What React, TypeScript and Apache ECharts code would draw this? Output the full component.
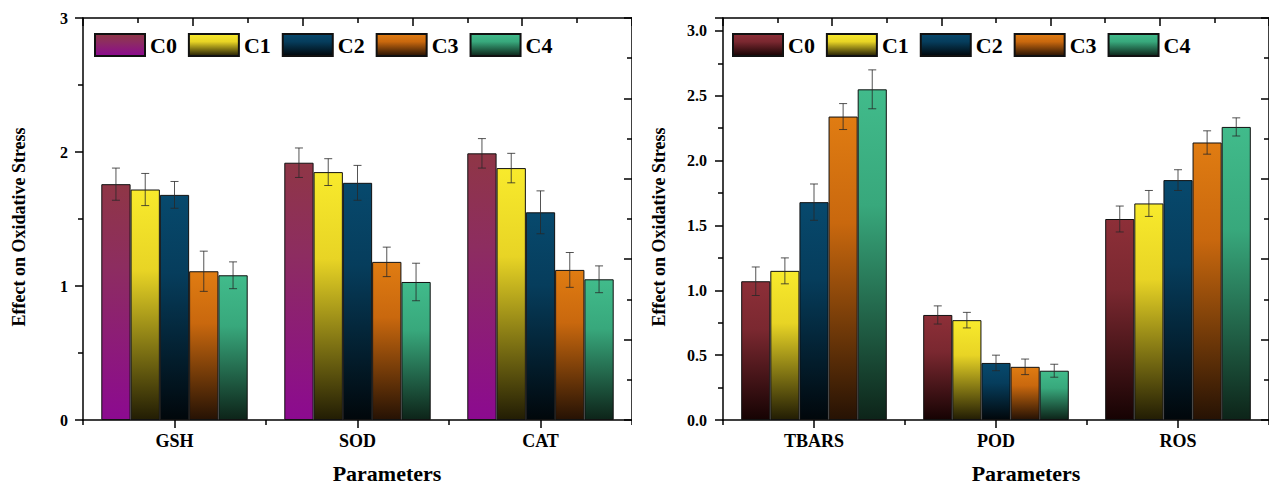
import React, { useEffect, useRef } from "react";
import * as echarts from "echarts";

const seriesNames = ["C0", "C1", "C2", "C3", "C4"];

const leftCategories = ["GSH", "SOD", "CAT"];
const leftC0 = [1.76, 1.92, 1.99];
const leftC1 = [1.72, 1.85, 1.88];
const leftC2 = [1.68, 1.77, 1.55];
const leftC3 = [1.11, 1.18, 1.12];
const leftC4 = [1.08, 1.03, 1.05];
const leftErrC0 = [0.12, 0.11, 0.11];
const leftErrC1 = [0.12, 0.1, 0.11];
const leftErrC2 = [0.1, 0.13, 0.16];
const leftErrC3 = [0.15, 0.11, 0.13];
const leftErrC4 = [0.1, 0.14, 0.1];

const rightCategories = ["TBARS", "POD", "ROS"];
const rightC0 = [1.07, 0.81, 1.55];
const rightC1 = [1.15, 0.77, 1.67];
const rightC2 = [1.68, 0.44, 1.85];
const rightC3 = [2.34, 0.41, 2.14];
const rightC4 = [2.55, 0.38, 2.26];
const rightErrC0 = [0.11, 0.07, 0.1];
const rightErrC1 = [0.1, 0.06, 0.1];
const rightErrC2 = [0.14, 0.06, 0.08];
const rightErrC3 = [0.1, 0.06, 0.09];
const rightErrC4 = [0.15, 0.05, 0.07];

const leftYTicks = { min: 0, max: 3, interval: 1 };
const rightYTicks = { min: 0, max: 3.1, interval: 0.5 };

const FONT = '"Liberation Serif", "Times New Roman", serif';

const grad = (top: string, mid: string, bottom: string) =>
  new echarts.graphic.LinearGradient(0, 0, 0, 1, [
    { offset: 0, color: top },
    { offset: 0.35, color: mid },
    { offset: 1, color: bottom },
  ]);

const leftColors = () => [
  grad("#8f3646", "#8d2d60", "#8c0a90"),
  grad("#f8ea2c", "#e8d425", "#221d04"),
  grad("#07496d", "#063d5c", "#01070b"),
  grad("#e07c12", "#c9680e", "#261204"),
  grad("#41bb8b", "#38a87c", "#0d2419"),
];
const rightColors = () => [
  grad("#8d2f38", "#7a2830", "#160303"),
  grad("#f8ea2c", "#e8d425", "#221d04"),
  grad("#07496d", "#063d5c", "#01070b"),
  grad("#e07c12", "#c9680e", "#261204"),
  grad("#41bb8b", "#38a87c", "#0d2419"),
];

function buildOption(
  categories: string[],
  values: number[][],
  errors: number[][],
  colors: any[],
  yCfg: { min: number; max: number; interval: number },
  decimals: number,
  labelMargin: number,
  legendLeft: number,
  yNameX: number,
  paramX: number
) {
  const axisLine = { show: true, lineStyle: { color: "#000", width: 1.5 } };
  const tickStyle = { color: "#000", width: 1.5 };
  const bars = values.map((vals, i) => ({
    name: seriesNames[i],
    type: "bar",
    xAxisIndex: 0,
    yAxisIndex: 0,
    data: vals,
    barGap: "0%",
    barCategoryGap: "20%",
    itemStyle: { color: colors[i], borderColor: "#111", borderWidth: 1 },
    z: 2,
  }));
  const errs = values.map((vals, i) => ({
    name: "err" + seriesNames[i],
    type: "custom",
    xAxisIndex: 0,
    yAxisIndex: 0,
    z: 5,
    encode: { x: 0, y: 1 },
    data: vals.map((v, j) => [j, v, errors[i][j]]),
    renderItem: (params: any, api: any) => {
      const idx = api.value(0);
      const v = api.value(1);
      const e = api.value(2);
      const base = api.coord([idx, v]);
      const band = api.size([1, 0])[0];
      const bw = (band * 0.8) / 5;
      const cx = base[0] + (i - 2) * bw;
      const yT = api.coord([idx, v + e])[1];
      const yB = api.coord([idx, v - e])[1];
      const st = { stroke: "rgba(40,40,40,0.8)", lineWidth: 1 };
      return {
        type: "group",
        children: [
          { type: "line", shape: { x1: cx, y1: yT, x2: cx, y2: yB }, style: st },
          { type: "line", shape: { x1: cx - 4, y1: yT, x2: cx + 4, y2: yT }, style: st },
          { type: "line", shape: { x1: cx - 4, y1: yB, x2: cx + 4, y2: yB }, style: st },
        ],
      };
    },
  }));
  return {
    animation: false,
    textStyle: { fontFamily: FONT },
    grid: { left: 83, right: 0, top: 18, bottom: 66, containLabel: false },
    legend: {
      data: seriesNames,
      left: legendLeft,
      top: 33,
      padding: 0,
      itemWidth: 50,
      itemHeight: 22,
      itemGap: 11,
      icon: "rect",
      textStyle: { fontFamily: FONT, fontWeight: "bold", fontSize: 22, color: "#000" },
      selectedMode: false,
    },
    xAxis: [
      {
        type: "category",
        data: categories,
        position: "bottom",
        axisLine,
        axisTick: { show: true, alignWithLabel: true, length: 8, lineStyle: tickStyle },
        axisLabel: { fontFamily: FONT, fontWeight: "bold", fontSize: 18, color: "#000", margin: 12 },
      },
      {
        type: "category",
        data: categories,
        position: "bottom",
        axisLine: { show: false },
        axisTick: { show: true, length: 5, lineStyle: tickStyle },
        axisLabel: { show: false },
      },
      {
        type: "value",
        min: 0,
        max: 10,
        interval: 2,
        position: "top",
        axisLine,
        axisTick: { show: true, inside: true, length: 8, lineStyle: tickStyle },
        minorTick: { show: true, splitNumber: 2, length: 5, lineStyle: tickStyle },
        axisLabel: { show: false },
        splitLine: { show: false },
      },
    ],
    yAxis: [
      {
        type: "value",
        min: yCfg.min,
        max: yCfg.max,
        interval: yCfg.interval,
        axisLine,
        axisTick: { show: true, length: 8, lineStyle: tickStyle },
        minorTick: { show: true, splitNumber: 2, length: 5, lineStyle: tickStyle },
        splitLine: { show: false },
        axisLabel: {
          fontFamily: FONT,
          fontWeight: "bold",
          fontSize: 16,
          color: "#000",
          margin: labelMargin,
          showMaxLabel: yCfg.max % yCfg.interval === 0,
          formatter: (v: number) => v.toFixed(decimals),
        },
      },
      {
        type: "value",
        min: 0,
        max: 10,
        interval: 2,
        position: "right",
        axisLine,
        axisTick: { show: true, inside: true, length: 8, lineStyle: tickStyle },
        minorTick: { show: true, splitNumber: 2, length: 5, lineStyle: tickStyle },
        axisLabel: { show: false },
        splitLine: { show: false },
      },
    ],
    graphic: [
      {
        type: "text",
        x: yNameX,
        y: 227,
        rotation: Math.PI / 2,
        style: {
          text: "Effect on Oxidative Stress",
          font: `bold 18px ${FONT}`,
          fill: "#000",
          textAlign: "center",
          textVerticalAlign: "middle",
          align: "center",
          verticalAlign: "middle",
        },
      },
      {
        type: "text",
        x: paramX,
        y: 473,
        style: {
          text: "Parameters",
          font: `bold 22px ${FONT}`,
          fill: "#000",
          textAlign: "center",
          textVerticalAlign: "middle",
          align: "center",
          verticalAlign: "middle",
        },
      },
    ],
    series: [...bars, ...errs],
  };
}

export default function App() {
  const leftRef = useRef<HTMLDivElement>(null);
  const rightRef = useRef<HTMLDivElement>(null);
  useEffect(() => {
    const l = echarts.init(leftRef.current!, null, { renderer: "svg" });
    const r = echarts.init(rightRef.current!, null, { renderer: "svg" });
    l.setOption(
      buildOption(
        leftCategories,
        [leftC0, leftC1, leftC2, leftC3, leftC4],
        [leftErrC0, leftErrC1, leftErrC2, leftErrC3, leftErrC4],
        leftColors(),
        leftYTicks,
        0,
        15,
        94,
        19,
        387
      ) as any
    );
    r.setOption(
      buildOption(
        rightCategories,
        [rightC0, rightC1, rightC2, rightC3, rightC4],
        [rightErrC0, rightErrC1, rightErrC2, rightErrC3, rightErrC4],
        rightColors(),
        rightYTicks,
        1,
        16,
        92,
        19,
        386
      ) as any
    );
    return () => {
      l.dispose();
      r.dispose();
    };
  }, []);
  return (
    <div style={{ position: "absolute", left: 0, top: 0, width: 1269, height: 486, background: "#fff" }}>
      <div ref={leftRef} style={{ position: "absolute", left: 0, top: 0, width: 632, height: 486 }} />
      <div ref={rightRef} style={{ position: "absolute", left: 640, top: 0, width: 629, height: 486 }} />
    </div>
  );
}
